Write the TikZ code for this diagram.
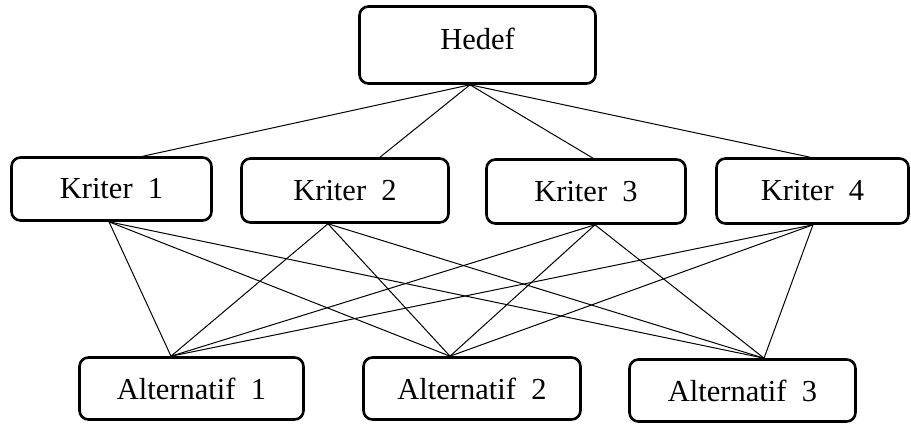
\documentclass[tikz,border=0pt]{standalone}
\usepackage{fontspec}
\setmainfont{Liberation Serif}
\begin{document}
\begin{tikzpicture}[x=1pt,y=-1pt,
  box/.style={draw=black,line width=2.6pt,rounded corners=9pt,fill=white,
    font=\fontsize{30.5}{32}\selectfont,inner sep=0pt},
  link/.style={draw=black,line width=1pt}]
\useasboundingbox (0,0) rectangle (911,426);
% nodes
\node[box,minimum width=236pt,minimum height=77pt,text depth=12pt] (h) at (477.5,45) {Hedef};
\node[box,minimum width=200pt,minimum height=63pt] (k1) at (111.5,189) {Kriter\ \ 1};
\node[box,minimum width=207pt,minimum height=64pt] (k2) at (345,190.5) {Kriter\ \ 2};
\node[box,minimum width=199pt,minimum height=64pt] (k3) at (586,191.5) {Kriter\ \ 3};
\node[box,minimum width=192pt,minimum height=65pt] (k4) at (812.5,191) {Kriter\ \ 4};
\node[box,minimum width=224pt,minimum height=62pt] (a1) at (191.5,388.5) {Alternatif\ \ 1};
\node[box,minimum width=217pt,minimum height=62pt] (a2) at (472,388.5) {Alternatif\ \ 2};
\node[box,minimum width=226pt,minimum height=62pt] (a3) at (742.5,390.5) {Alternatif\ \ 3};
% connectors goal -> criteria
\path[link] ([xshift=-7.5pt]h.south) -- ([xshift=31.5pt]k1.north);
\path[link] ([xshift=-7.5pt]h.south) -- ([xshift=35pt]k2.north);
\path[link] ([xshift=-7.5pt]h.south) -- ([xshift=7pt]k3.north);
\path[link] ([xshift=-7.5pt]h.south) -- ([xshift=-2.5pt]k4.north);
% criteria -> alternatives
\foreach \k/\kx in {k1/-2.5,k2/-17,k3/9,k4/0.5}{
  \path[link] ([xshift=\kx pt]\k.south) -- ([xshift=-20.5pt]a1.north);
  \path[link] ([xshift=\kx pt]\k.south) -- ([xshift=-22pt]a2.north);
  \path[link] ([xshift=\kx pt]\k.south) -- ([xshift=21.5pt]a3.north);
}
\end{tikzpicture}
\end{document}
